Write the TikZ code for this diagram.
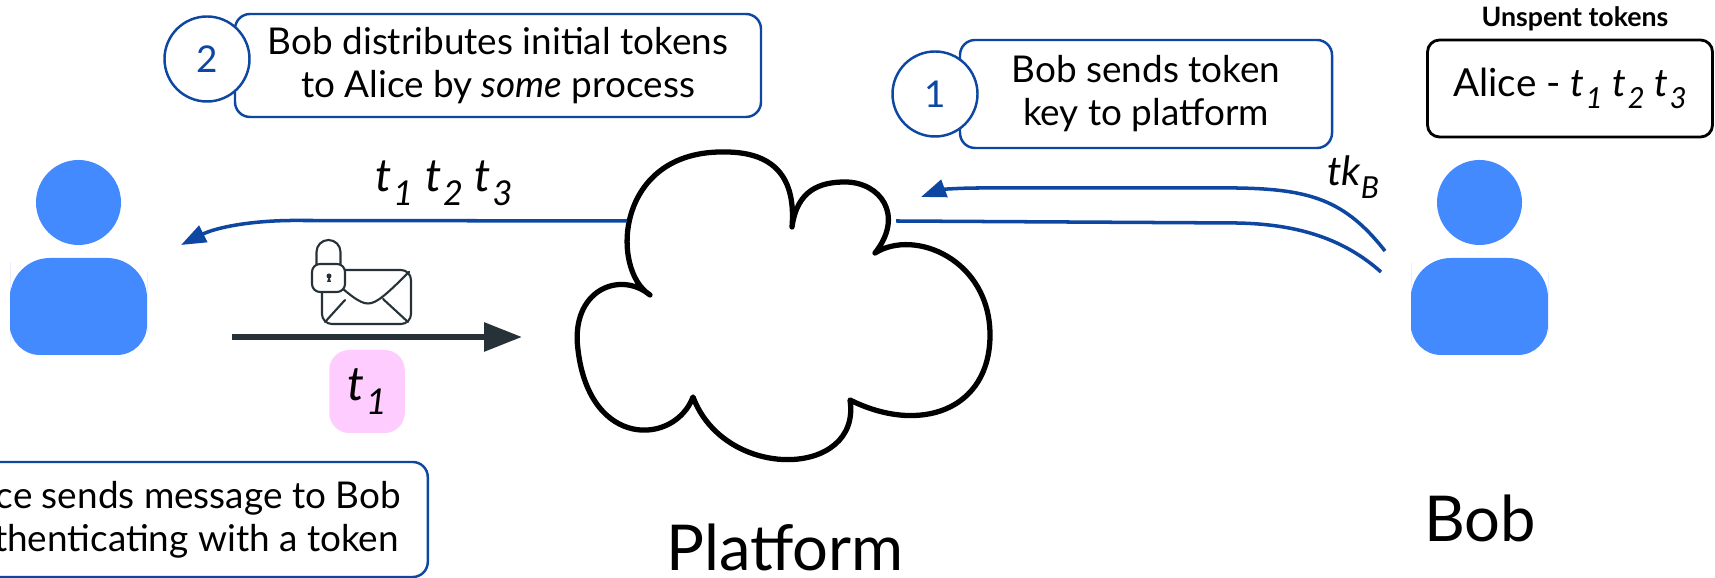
\documentclass[tikz,border=0pt]{standalone}
\usepackage{fontspec}
\setmainfont{Lato}
\usetikzlibrary{arrows.meta}

\definecolor{personblue}{HTML}{448AFF}
\definecolor{linkblue}{HTML}{0D47A1}
\definecolor{iconslate}{HTML}{263238}
\definecolor{tokenpink}{HTML}{FFCCFF}

\newcommand{\boxfont}{\fontsize{10.5}{12.2}\selectfont}
\newcommand{\tkn}[1]{\textit{t}\kern.04em\raisebox{-.6ex}{\scalebox{.75}{\textit{#1}}}}

\tikzset{
  person/.pic={
    \fill[personblue] (0,0) circle (0.425);
    \fill[personblue,rounded corners=3mm] (-0.685,-1.0) -- (-0.685,-1.525) -- (0.685,-1.525) -- (0.685,-1.0)
      [rounded corners=4mm] -- (0.685,-0.555) -- (-0.685,-0.555) -- cycle;
  }
}

\begin{document}
\begin{tikzpicture}[
  textbox/.style={draw=linkblue,line width=0.7pt,rounded corners=1.5mm,fill=white,align=center,font=\boxfont},
  stepnum/.style={circle,draw=linkblue,line width=0.7pt,fill=white,text=linkblue,minimum size=0.85cm,inner sep=0pt,font=\boxfont},
  link/.style={linkblue,line width=1pt},
  icon/.style={draw=iconslate,line width=0.6pt,line cap=round,line join=round}]
  \useasboundingbox (0,0) rectangle (17.15,5.78);
  \clip (0,0) rectangle (17.15,5.78);

  % Personnes
  \pic (alice) at (0.785,3.755) {person};
  \pic (bob) at (14.795,3.755) {person};
  \node[anchor=base,font=\fontsize{18}{21}\selectfont] (bobname) at (14.80,0.36) {Bob};

  % Plateforme : nuage dessine a la main
  \draw[line width=1.5pt,line join=round,fill=white] (6.50,2.83)
    .. controls (6.10,3.08) and (6.15,4.28) .. (7.25,4.26)
    .. controls (7.85,4.26) and (7.95,3.88) .. (7.92,3.51)
    .. controls (7.97,3.88) and (8.20,3.96) .. (8.45,3.96)
    .. controls (8.80,3.96) and (9.05,3.63) .. (8.75,3.25)
    .. controls (9.15,3.50) and (9.90,3.18) .. (9.90,2.43)
    .. controls (9.90,1.68) and (9.20,1.43) .. (8.50,1.78)
    .. controls (8.62,1.00) and (7.25,0.96) .. (6.93,1.81)
    .. controls (6.75,1.33) and (5.90,1.28) .. (5.78,2.28)
    .. controls (5.70,2.88) and (6.20,3.08) .. cycle;
  \node[anchor=base,font=\fontsize{18}{21}\selectfont] (platname) at (7.85,0.07) {Platform};

  \coordinate (platW) at (6.27,3.57);
  \coordinate (platE) at (8.96,3.57);
  \coordinate (platNE) at (9.21,3.81);
  \coordinate (platIn) at (5.22,2.41);
  \coordinate (aliceIn) at (1.81,3.33);
  \coordinate (aliceOut) at (2.32,2.41);
  \coordinate (bobOutA) at (13.85,3.27);
  \coordinate (bobOutB) at (13.81,3.06);

  % Etape 1 : cle de jeton vers la plateforme
  \draw[link] (platE) -- (12.36,3.55) .. controls (13.00,3.54) and (13.45,3.38) .. (bobOutB);
  \draw[link,-{Triangle[length=2.5mm,width=1.8mm]}] (bobOutA)
    .. controls (13.45,3.78) and (13.10,3.89) .. (12.36,3.90) -- (9.80,3.90)
    .. controls (9.55,3.90) and (9.40,3.88) .. (platNE);
  \node[anchor=base,font=\fontsize{11.5}{13}\selectfont] (tkb) at (13.53,3.92)
    {\textit{tk}\raisebox{-.6ex}{\scalebox{.75}{\textit{B}}}};

  % Etape 2 : jetons distribues a Alice
  \draw[link,-{Triangle[length=2.5mm,width=1.8mm]}] (platW) -- (3.00,3.575)
    .. controls (2.50,3.58) and (2.15,3.50) .. (aliceIn);
  \node[anchor=base,font=\fontsize{13}{16}\selectfont] (given) at (4.44,3.86) {\tkn1 \tkn2 \tkn3};

  % Message chiffre d'Alice
  \draw[iconslate,line width=1.7pt,-{Triangle[length=3.8mm,width=2.8mm]}] (aliceOut) -- (platIn);
  \node[fill=tokenpink,rounded corners=2mm,minimum width=0.755cm,minimum height=0.83cm,inner sep=0pt,
    font=\fontsize{13.5}{16}\selectfont] (chip) at (3.67,1.865) {\tkn1};
  \draw[icon,rounded corners=1mm] (3.22,2.54) rectangle (4.11,3.08);
  \draw[icon] (3.23,3.07) .. controls (3.50,2.82) and (3.60,2.745) .. (3.68,2.745)
    .. controls (3.76,2.745) and (3.85,2.82) .. (4.09,3.06);
  \draw[icon] (3.25,2.56) -- (3.45,2.78);
  \draw[icon] (4.08,2.56) -- (3.83,2.79);
  \draw[icon] (3.165,3.10) -- (3.165,3.26) arc[start angle=180,end angle=0,radius=0.12] -- (3.405,3.10);
  \filldraw[icon,fill=white,rounded corners=0.8mm] (3.12,2.86) rectangle (3.45,3.14);
  \fill[iconslate] (3.29,3.02) circle (0.025);
  \fill[iconslate] (3.29,3.02) -- (3.27,2.96) -- (3.31,2.96) -- cycle;

  % Bulles des etapes
  \node[textbox,minimum width=5.26cm,minimum height=1.03cm] (distrib) at (4.98,5.125)
    {Bob distributes initial tokens\\to Alice by \textit{some} process};
  \node[stepnum] (num2) at (2.07,5.19) {2};
  \node[textbox,minimum width=3.72cm,minimum height=1.08cm] (sendkey) at (11.46,4.84)
    {Bob sends token\\key to platform};
  \node[stepnum] (num1) at (9.35,4.84) {1};
  \node[textbox,anchor=east,minimum height=1.15cm,inner xsep=0.27cm] (sendmsg) at (4.29,0.585)
    {Alice sends message to Bob\\authenticating with a token};

  % Registre de Bob
  \node[anchor=base,font=\bfseries\fontsize{7.6}{9}\selectfont] (ledgertitle) at (15.75,5.513) {Unspent tokens};
  \node[draw,line width=0.8pt,rounded corners=1.2mm,minimum width=2.85cm,minimum height=0.97cm,
    font=\fontsize{11}{13}\selectfont] (ledger) at (15.70,4.895) {Alice - \tkn1 \tkn2 \tkn3};
\end{tikzpicture}
\end{document}
